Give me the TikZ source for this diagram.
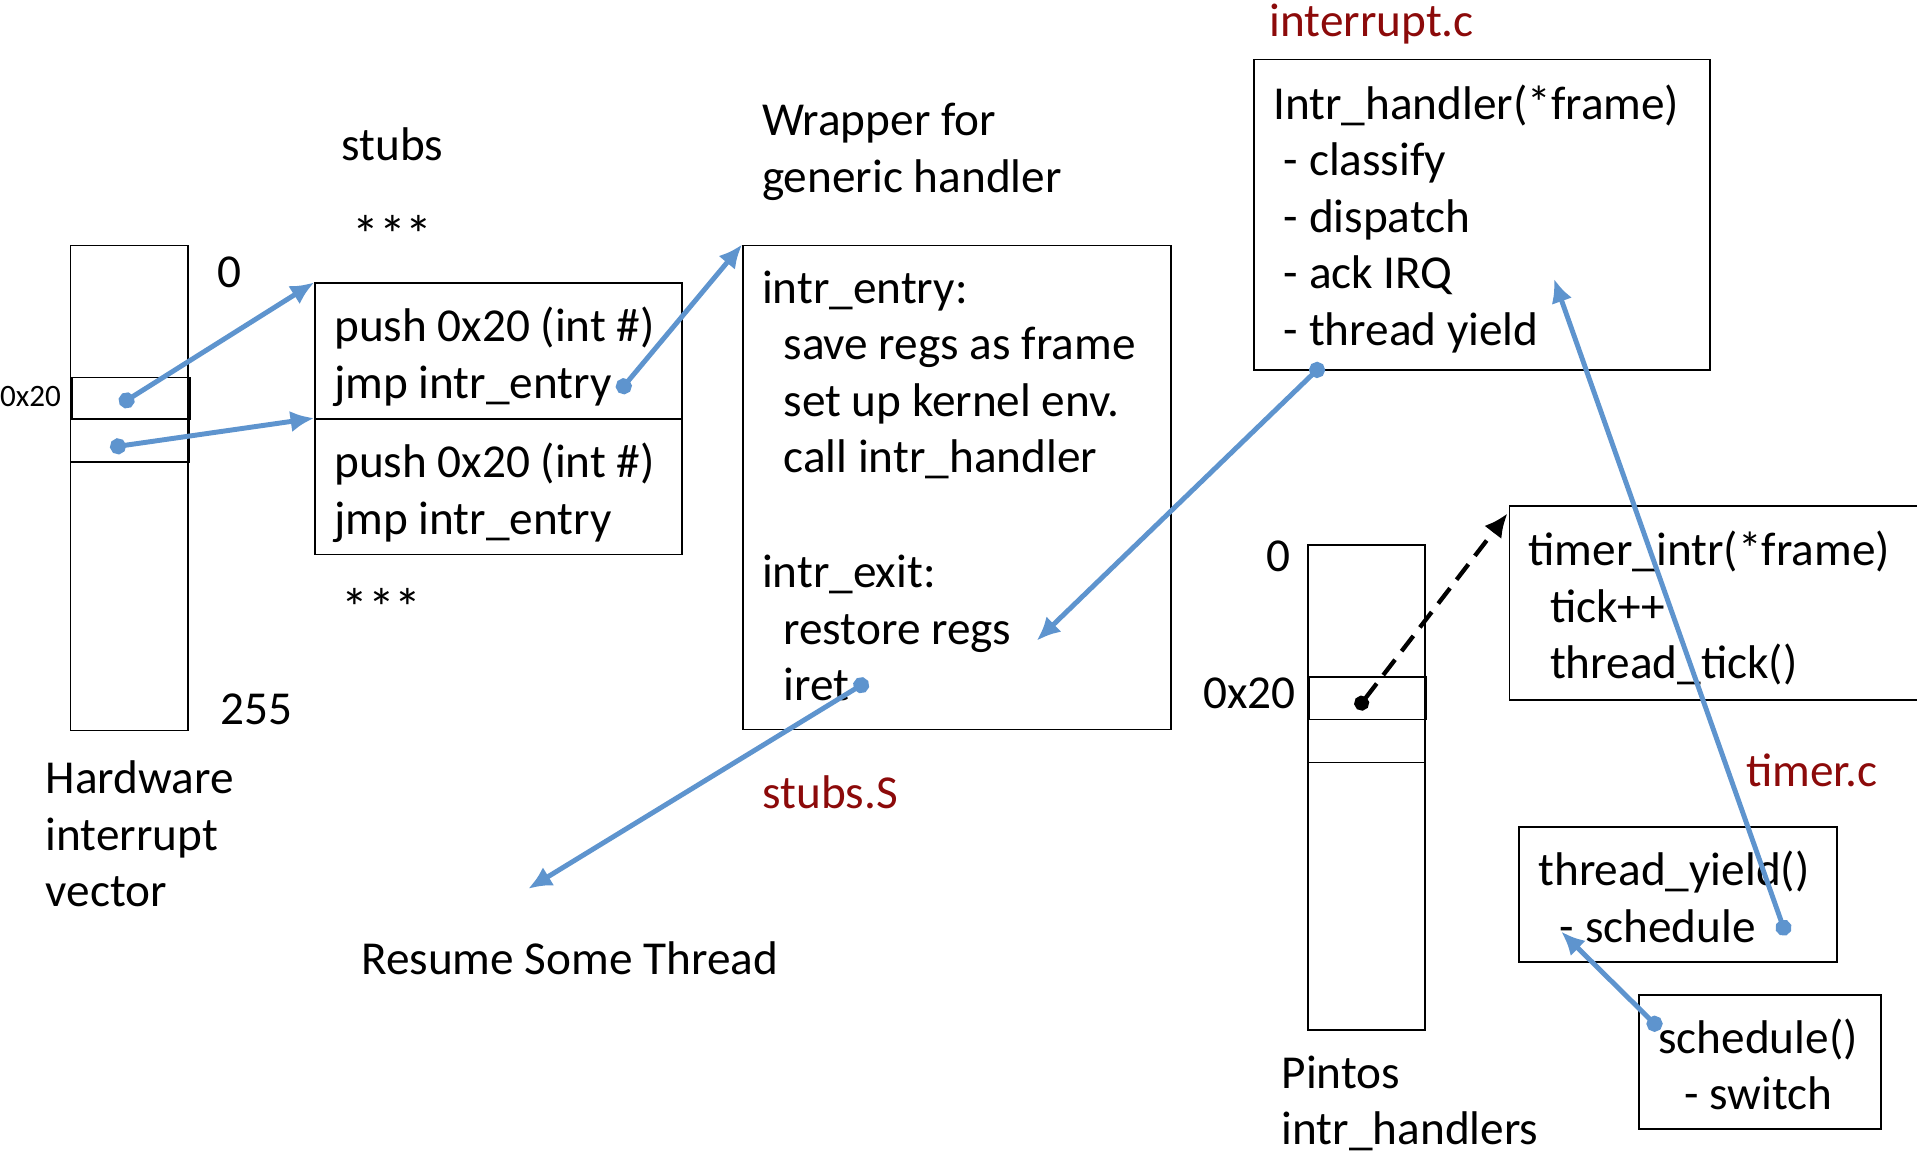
\documentclass[tikz,border=0pt]{standalone}
\usepackage{fontspec}
\setmainfont{Carlito}
\usetikzlibrary{arrows.meta}

\definecolor{ptrblue}{RGB}{94,148,206}
\definecolor{fname}{RGB}{140,10,10}
\newcommand{\indt}{\hspace*{10pt}}
\newcommand{\inds}{\hspace*{5pt}}

\begin{document}
\begin{tikzpicture}[x=0.02cm, y=-0.02cm,
    every node/.style={inner sep=0pt, font=\fontsize{22}{26.3}\selectfont},
    box/.style={draw, line width=0.75pt, anchor=north west},
    code/.style={anchor=north west, align=left, execute at begin node=\strut},
    filename/.style={text=fname},
    ptr/.style={draw=ptrblue, line width=2.3pt, {Circle[length=7.5pt]}-{Latex[length=11pt,width=10pt]}},
    jumpto/.style={draw=black, line width=2pt, dash pattern=on 9pt off 5pt, {Circle[length=7pt]}-{Latex[length=11pt,width=10pt]}}]

    \useasboundingbox (0,0) rectangle (1568,946);
    \clip (0,0) rectangle (1568,946);

    % hardware interrupt vector
    \node[box, minimum width=1.92cm, minimum height=7.94cm] (hwvec) at (57,200) {};
    \node[box, minimum width=1.94cm, minimum height=0.68cm] (hwslota) at (58,308) {};
    \node[box, minimum width=1.94cm, minimum height=0.70cm] (hwslotb) at (57,342) {};
    \node (hwzero) at (188,223) {0};
    \node (hwlast) at (210,580) {255};
    \node[font=\fontsize{14.5}{17}\selectfont] (hwnum) at (25,324) {0x20};
    \node[code] (hwlabel) at (37,622) {Hardware\\interrupt\\vector};

    % stubs
    \node (stubslabel) at (321,118) {stubs};
    \node[font=\fontsize{25}{30}\selectfont] (dotsa) at (321,192) {***};
    \node[box, minimum width=6cm, minimum height=2.22cm] (stuba) at (257,231) {};
    \node[box, minimum width=6cm, minimum height=2.22cm] (stubb) at (257,342) {};
    \node[code] (stubatext) at (273,251) {push 0x20 (int \#)\\jmp intr\_entry};
    \node[code] (stubbtext) at (273,362) {push 0x20 (int \#)\\jmp intr\_entry};
    \node[font=\fontsize{25}{30}\selectfont] (dotsb) at (312,497) {***};

    % generic wrapper
    \node[code] (wraplabel) at (623,84) {Wrapper for\\generic handler};
    \node[box, minimum width=7cm, minimum height=7.92cm] (wrapper) at (607,200) {};
    \node[code] (entrytext) at (623,221) {intr\_entry:\\\indt save regs as frame\\\indt set up kernel env.\\\indt call intr\_handler};
    \node[code] (exittext) at (623,454) {intr\_exit:\\\indt restore regs\\\indt iret};
    \node[filename] (stubsfile) at (679,648) {stubs.S};
    \node (resume) at (466,784) {Resume Some Thread};

    % interrupt.c
    \node[filename] (intrfile) at (1122,20) {interrupt.c};
    \node[box, minimum width=7.46cm, minimum height=5.08cm] (handler) at (1025,48) {};
    \node[code] (handlertext) at (1041,69) {Intr\_handler(*frame)\\\inds- classify\\\inds- dispatch\\\inds- ack IRQ\\\inds- thread yield};

    % pintos handler table
    \node (pzero) at (1046,455) {0};
    \node (pnum) at (1022,567) {0x20};
    \node[box, minimum width=1.92cm, minimum height=7.94cm] (pvec) at (1069,445) {};
    \node[box, minimum width=1.92cm, minimum height=0.70cm] (pslota) at (1070,553) {};
    \node[box, minimum width=1.92cm, minimum height=0.70cm] (pslotb) at (1069,588) {};
    \node[code] (plabel) at (1048,863) {Pintos\\intr\_handlers};

    % timer.c
    \node[box, minimum width=8cm, minimum height=3.18cm] (timerbox) at (1234,413) {};
    \node[code] (timertext) at (1250,434) {timer\_intr(*frame)\\\indt tick++\\\indt thread\_tick()};
    \node[filename] (timerfile) at (1482,630) {timer.c};
    \node[box, minimum width=5.2cm, minimum height=2.2cm] (yieldbox) at (1242,676) {};
    \node[code] (yieldtext) at (1258,696) {thread\_yield()\\\indt - schedule};
    \node[box, minimum width=3.96cm, minimum height=2.2cm] (schedbox) at (1340,813) {};
    \node[code, anchor=north, align=center] (schedtext) at (1438,833) {schedule()\\- switch};

    % pointers
    \coordinate (hwa) at (98,331);
    \coordinate (hwb) at (90,366);
    \coordinate (jmpa) at (506,321);
    \coordinate (handlerout) at (1082,298);
    \coordinate (restoreend) at (848,524);
    \coordinate (iretpt) at (710,557);
    \coordinate (resumept) at (432,727);
    \coordinate (yieldpt) at (1461,765);
    \coordinate (handlerin) at (1271,228);
    \coordinate (schedpt) at (1358,842);
    \coordinate (yieldin) at (1277,762);
    \coordinate (pslotpt) at (1110,580);
    \coordinate (timerin) at (1233,420);

    \draw[ptr] (hwa) -- (stuba.north west);
    \draw[ptr] (hwb) -- (stubb.north west);
    \draw[ptr] (jmpa) -- (wrapper.north west);
    \draw[ptr] (handlerout) -- (restoreend);
    \draw[ptr] (iretpt) -- (resumept);
    \draw[ptr] (yieldpt) -- (handlerin);
    \draw[ptr] (schedpt) -- (yieldin);
    \draw[jumpto] (pslotpt) -- (timerin);
\end{tikzpicture}
\end{document}
